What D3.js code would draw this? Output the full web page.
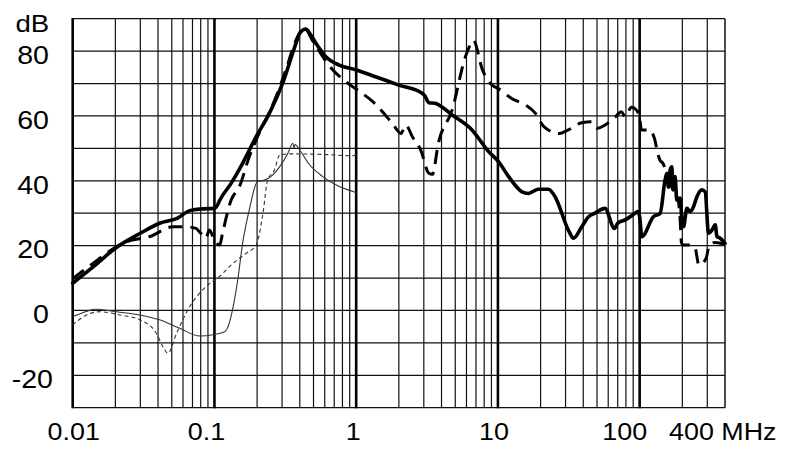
<!DOCTYPE html>
<html><head><meta charset="utf-8">
<script src="https://cdn.jsdelivr.net/npm/d3@7"></script>
<style>
html,body{margin:0;padding:0;background:#fff;}
svg{display:block;}
text{font-family:"Liberation Sans",Arial,sans-serif;fill:#000;}
</style>
</head><body>
<svg id="chart" width="790" height="456"></svg>
<script>
// ---- data ----
const decadeTicks = [0.01, 0.1, 1, 10, 100];
const decadeLabels = ["0.01", "0.1", "1", "10", "100"];
const endTick = 400;
const endLabel = "400 MHz";
const dbTicks = [80, 60, 40, 20, 0, -20];
const dbLabels = ["80", "60", "40", "20", "0", "-20"];
const yUnit = "dB";

// thick solid
const solidFreq = [0.01,0.014,0.02,0.03,0.041,0.055,0.067,0.08,0.1,0.105,0.109,0.131,0.158,0.197,0.244,0.303,0.376,0.4,0.442,0.47,0.52,0.611,0.758,1,1.37,2,2.92,3.05,3.26,3.6,4.75,6.56,8.6,10.1,11.9,14.8,16.4,19.3,22.7,25.3,31.4,34.1,39,43.6,48.4,56.9,66.4,70,72.8,78.7,92.9,97,100,103.6,125,139.6,151,155.6,159.7,164,168.7,171.4,177.8,182.8,193,198.6,203.8,215.4,227,239.9,253.5,274.9,289.9,306,323.5,341.4,350.9,370,400];
const solidDb   = [8.4,13.5,19.2,23.8,26.9,28.5,30.8,31.3,31.5,32.5,34,39.2,45.4,53.6,60.8,70.1,82.4,85.5,86.8,85.5,82.4,78.3,75.7,74.2,72.1,69.5,67,66.2,64.1,63.9,60.3,55.7,49,45.9,41.3,36.6,36.1,37.4,37.4,35.1,24.8,22.3,25.8,28.9,30,31.5,25.3,26.9,27.4,27.9,30,30.5,28.9,22.75,28.9,30,40.2,42.3,38,43.3,44.3,37.2,41.3,34,34.7,27.9,25.8,31.5,30.5,32,35.1,37.2,36.6,23.8,24.8,26.4,22.75,22.3,20.7];

// thick dashed
const dashFreq = [0.01,0.0125,0.024,0.035,0.051,0.063,0.074,0.08,0.087,0.092,0.1,0.109,0.114,0.131,0.15,0.176,0.197,0.272,0.319,0.376,0.42,0.43,0.49,0.64,0.91,1.06,1.31,1.8,2.07,2.24,2.49,2.85,3.26,3.45,3.8,4.75,5.9,6.56,6.7,7.78,9.1,10,12.5,15.6,18.4,21.1,27,31.4,39,45.8,50.2,57,66.9,74.3,79,87.5,95,100.3,103,117,128,134,139,146,158,164,175,187,193,197,203,220,245,262,294,310,340,400];
const dashDb   = [9.8,13,21.2,22.8,25.8,25.8,25.3,23.8,22.3,24.8,21.7,20.2,23.8,34,38.2,47.4,52.6,65.9,74.2,83.4,87,87.3,83.4,75.7,69.5,67.5,64.4,57.7,54.6,57.2,53.6,49.5,42.3,42,51.6,61.8,78.3,82.9,83.4,74.2,69.5,68.5,65.4,63.4,60.8,56.7,54.6,55.7,57.9,58.2,56.2,57.2,59.6,61.3,59.8,62.7,61.8,58.8,55.7,55.7,52.6,48.5,46.4,45.4,41,39.2,36.5,34,28,21,20.2,20.2,19.5,14,16,20.2,21,20.5];

// thin solid
const thinFreq = [0.01,0.0125,0.0144,0.0156,0.0204,0.0297,0.041,0.0569,0.0786,0.1,0.118,0.127,0.134,0.146,0.158,0.176,0.201,0.225,0.25,0.288,0.33,0.357,0.365,0.37,0.4,0.46,0.58,0.76,0.96,1.0];
const thinDb   = [-1.9,-0.3,0.35,0.3,-0.4,-1.4,-2.9,-5.5,-7.9,-7.4,-6.6,-4,0.1,9.4,20.7,31,39.7,40.2,41.3,44.3,48.5,51.6,50.2,51.2,49.5,45.4,41.3,38.2,36.6,36.3];

// thin dashed
const thinDashFreq = [0.01,0.0125,0.0156,0.0215,0.0297,0.039,0.0433,0.047,0.054,0.067,0.087,0.108,0.135,0.167,0.197,0.22,0.237,0.265,0.288,0.335,0.6,0.96,1.0];
const thinDashDb   = [-4.5,-1.4,-0.4,-1.4,-2.9,-7.1,-11.2,-13.2,-7.1,1.2,7.3,10.4,14.5,17.6,20.2,30,40.2,43.3,47.9,48.3,48.1,47.7,48.2];

// ---- layout ----
const svg = d3.select("#chart");
const x = d3.scaleLog().domain([0.01, 400]).range([72.7, 725]);
const y = d3.scaleLinear().domain([-30, 90]).range([407.7, 18.7]);

const grid = svg.append("g");
d3.range(-30, 91, 10).forEach(v => {
  grid.append("line")
    .attr("x1", x(0.01)).attr("x2", x(400))
    .attr("y1", y(v)).attr("y2", y(v))
    .attr("stroke", "#111").attr("stroke-width", 1.3);
});
const minor = [];
decadeTicks.forEach(d => { for (let k = 2; k <= 9; k++) { const v = k * d; if (v <= 400.0001) minor.push(v); } });
minor.forEach(v => {
  grid.append("line")
    .attr("x1", x(v)).attr("x2", x(v))
    .attr("y1", y(-30)).attr("y2", y(90))
    .attr("stroke", "#111").attr("stroke-width", v >= 399 ? 1.5 : 1.2);
});
decadeTicks.forEach(v => {
  grid.append("line")
    .attr("x1", x(v)).attr("x2", x(v))
    .attr("y1", y(-30) + 0.6).attr("y2", y(90) - 0.6)
    .attr("stroke", "#000").attr("stroke-width", 2.6);
});

// ---- curves ----
const line = d3.line().x(d => x(d[0])).y(d => y(d[1])).curve(d3.curveMonotoneX);
const zip = (a, b) => a.map((v, i) => [v, b[i]]);

svg.append("path").attr("d", line(zip(thinFreq, thinDb)))
  .attr("fill", "none").attr("stroke", "#333").attr("stroke-width", 1.1);
svg.append("path").attr("d", line(zip(thinDashFreq, thinDashDb)))
  .attr("fill", "none").attr("stroke", "#333").attr("stroke-width", 1.1)
  .attr("stroke-dasharray", "4,3");
svg.append("path").attr("d", line(zip(dashFreq, dashDb)))
  .attr("fill", "none").attr("stroke", "#000").attr("stroke-width", 3)
  .attr("stroke-dasharray", "14,8").attr("stroke-linejoin", "round");
svg.append("path").attr("d", line(zip(solidFreq, solidDb)))
  .attr("fill", "none").attr("stroke", "#000").attr("stroke-width", 3.6)
  .attr("stroke-linejoin", "round").attr("stroke-linecap", "round");

// ---- labels ----
const xLabelShift = [1, -8, -3, -4, -15];
decadeTicks.forEach((v, i) => {
  svg.append("text")
    .attr("transform", `translate(${x(v) + xLabelShift[i]},440) scale(1.12,1)`)
    .attr("text-anchor", "middle").attr("font-size", 24)
    .text(decadeLabels[i]);
});
svg.append("text")
  .attr("transform", `translate(${x(endTick) - 56},440) scale(1.12,1)`)
  .attr("text-anchor", "start").attr("font-size", 24)
  .text(endLabel);

dbTicks.forEach((v, i) => {
  svg.append("text")
    .attr("transform", `translate(${v < 0 ? 53 : 49},${y(v) + 12.8}) scale(1.12,1)`)
    .attr("text-anchor", "end").attr("font-size", 25.5)
    .text(dbLabels[i]);
});
svg.append("text")
  .attr("transform", `translate(15.5,32.3) scale(1.2,1)`)
  .attr("text-anchor", "start").attr("font-size", 23)
  .text(yUnit);
</script>
</body></html>
